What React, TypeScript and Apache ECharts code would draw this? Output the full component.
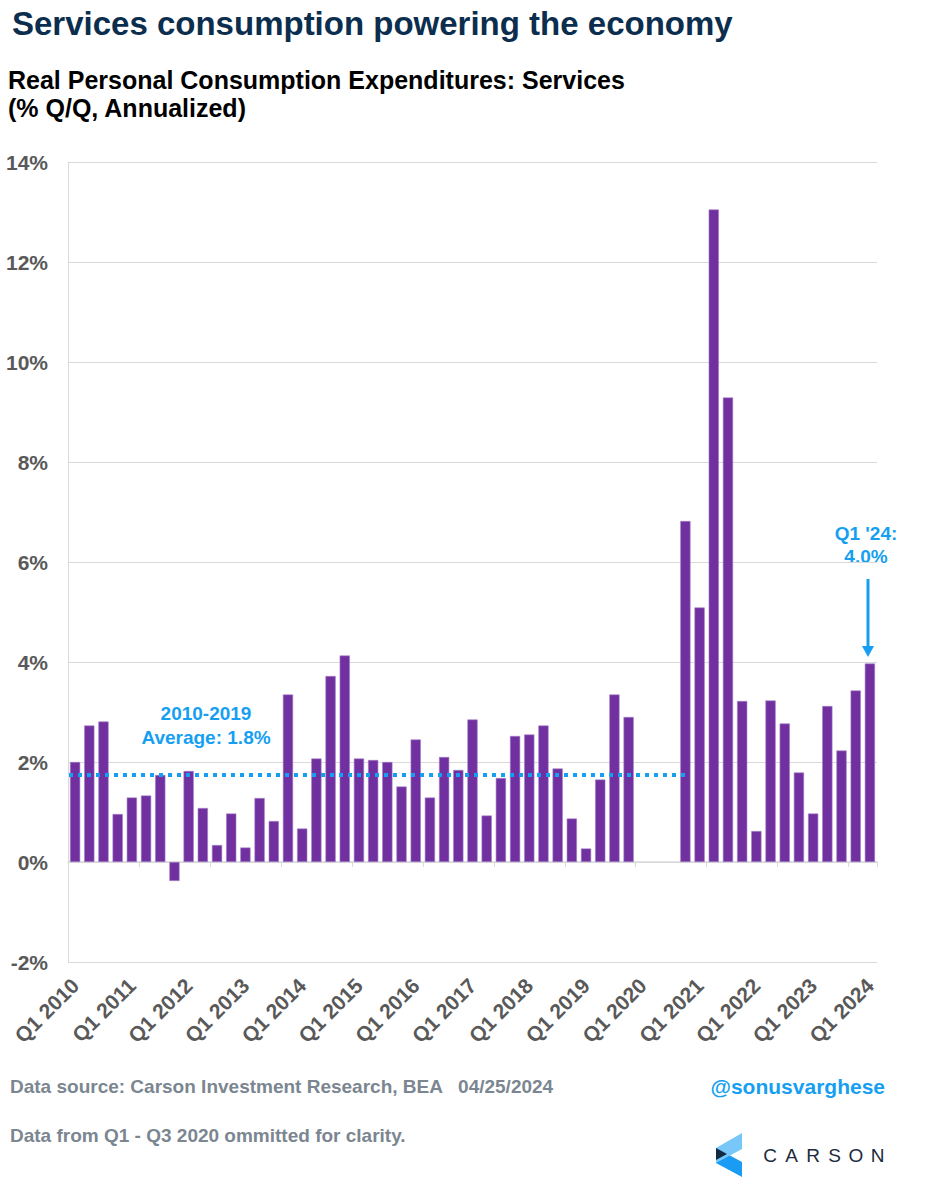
import React, { useEffect, useRef } from "react";
import * as echarts from "echarts";

const years = [2010, 2011, 2012, 2013, 2014, 2015, 2016, 2017, 2018, 2019, 2020, 2021, 2022, 2023, 2024];
const quarters = ["Q1", "Q2", "Q3", "Q4"];
const categories: string[] = [];
years.forEach((y) => quarters.forEach((q) => {
  if (y < 2024 || q === "Q1") categories.push(`${q} ${y}`);
}));

// Real PCE: Services, % Q/Q annualized (Q1-Q3 2020 omitted)
const values: (number | null)[] = [
  2.0, 2.73, 2.81, 0.96,
  1.29, 1.33, 1.74, -0.38,
  1.82, 1.08, 0.34, 0.97,
  0.29, 1.28, 0.82, 3.35,
  0.67, 2.07, 3.72, 4.13,
  2.07, 2.04, 2.0, 1.51,
  2.45, 1.29, 2.1, 1.84,
  2.85, 0.93, 1.68, 2.52,
  2.55, 2.73, 1.87, 0.87,
  0.27, 1.65, 3.35, 2.9,
  null, null, null, 6.82,
  5.09, 13.05, 9.29, 3.22,
  0.62, 3.23, 2.77, 1.79,
  0.97, 3.12, 2.23, 3.43,
  3.97,
];

const avg2010_2019 = 1.75;
const avgEndIndex = 43;
const yTicks = { min: -2, max: 14, interval: 2 };

const BLUE = "#169ff2";
const GRAY = "#595959";
const FOOT = "#7b8691";
const FONT = "'Liberation Sans', Arial, sans-serif";

export default function App() {
  const ref = useRef<HTMLDivElement>(null);
  useEffect(() => {
    if (!ref.current) return;
    const chart = echarts.init(ref.current, null, { renderer: "svg" });
    const carson = ["C", "A", "R", "S", "O", "N"];
    chart.setOption({
      animation: false,
      backgroundColor: "#ffffff",
      textStyle: { fontFamily: FONT },
      grid: { left: 68, right: 50, top: 162, bottom: 238, containLabel: false },
      xAxis: [
        {
          type: "category",
          data: categories,
          position: "bottom",
          axisLine: { show: false, onZero: false },
          axisTick: { show: false },
          axisLabel: {
            interval: 3,
            rotate: 45,
            margin: 20,
            color: GRAY,
            fontWeight: "bold",
            fontSize: 21,
            fontFamily: FONT,
          },
          splitLine: { show: false },
        },
        {
          type: "category",
          data: categories,
          position: "bottom",
          axisLine: { show: true, onZero: true, lineStyle: { color: "#d9d9d9", width: 1.5 } },
          axisTick: { show: true, length: 5, lineStyle: { color: "#d9d9d9" } },
          axisLabel: { show: false },
          splitLine: { show: false },
        },
      ],
      yAxis: {
        type: "value",
        min: yTicks.min,
        max: yTicks.max,
        interval: yTicks.interval,
        axisLine: { show: true, lineStyle: { color: "#d9d9d9" } },
        axisTick: { show: false },
        axisLabel: {
          formatter: "{value}%",
          color: GRAY,
          fontWeight: "bold",
          fontSize: 21,
          fontFamily: FONT,
          margin: 20,
        },
        splitLine: { lineStyle: { color: "#d9d9d9", width: 1 } },
      },
      series: [
        {
          type: "bar",
          xAxisIndex: 0,
          data: values,
          barCategoryGap: "28%",
          itemStyle: { color: "#7030a0", borderColor: "#a47fc6", borderWidth: 0.6 },
          markLine: {
            silent: true,
            symbol: ["none", "none"],
            label: { show: false },
            lineStyle: { color: BLUE, width: 4, type: [4, 5] },
            data: [[{ coord: [0, avg2010_2019], x: 69 }, { coord: [avgEndIndex, avg2010_2019] }]],
          },
        },
      ],
      graphic: [
        {
          type: "text",
          left: 12,
          top: 7,
          style: {
            text: "Services consumption powering the economy",
            fill: "#0c2e4e",
            font: `bold 33px ${FONT}`,
          },
        },
        {
          type: "text",
          left: 8,
          top: 66,
          style: {
            text: "Real Personal Consumption Expenditures: Services\n(% Q/Q, Annualized)",
            fill: "#000000",
            font: `bold 25px ${FONT}`,
            lineHeight: 28,
          },
        },
        {
          type: "text",
          x: 206,
          y: 725,
          style: {
            text: "2010-2019\nAverage: 1.8%",
            fill: BLUE,
            font: `bold 19px ${FONT}`,
            lineHeight: 24,
            align: "center",
            verticalAlign: "middle",
          },
        },
        {
          type: "text",
          x: 866,
          y: 545,
          style: {
            text: "Q1 '24:\n4.0%",
            fill: BLUE,
            font: `bold 19px ${FONT}`,
            lineHeight: 23,
            align: "center",
            verticalAlign: "middle",
          },
        },
        {
          type: "line",
          shape: { x1: 868, y1: 579, x2: 868, y2: 648 },
          style: { stroke: BLUE, lineWidth: 3 },
        },
        {
          type: "polygon",
          shape: { points: [[862, 646], [874, 646], [868, 657]] },
          style: { fill: BLUE },
        },
        {
          type: "text",
          left: 10,
          top: 1077,
          style: {
            text: "Data source: Carson Investment Research, BEA   04/25/2024",
            fill: FOOT,
            font: `bold 19px ${FONT}`,
          },
        },
        {
          type: "text",
          left: 10,
          top: 1126,
          style: {
            text: "Data from Q1 - Q3 2020 ommitted for clarity.",
            fill: FOOT,
            font: `bold 19px ${FONT}`,
          },
        },
        {
          type: "text",
          right: 42,
          top: 1076,
          style: {
            text: "@sonusvarghese",
            fill: BLUE,
            font: `bold 21px ${FONT}`,
          },
        },
        {
          type: "polygon",
          shape: { points: [[716, 1148], [742, 1162], [742, 1177], [716, 1163]] },
          style: { fill: "#1a9cf5" },
        },
        {
          type: "polygon",
          shape: { points: [[716, 1148], [742, 1133], [742, 1149], [729, 1156], [716, 1163]] },
          style: { fill: "#78c7f9" },
        },
        {
          type: "polygon",
          shape: { points: [[716, 1148], [716, 1160], [727, 1154]] },
          style: { fill: "#142a44" },
        },
        ...carson.map((ch, i) => ({
          type: "text",
          x: 770 + i * 21.5,
          y: 1155,
          style: {
            text: ch,
            fill: "#1c2b3d",
            font: `19px ${FONT}`,
            align: "center",
            verticalAlign: "middle",
          },
        })),
      ],
    });
    return () => chart.dispose();
  }, []);
  return (
    <div
      ref={ref}
      style={{ position: "fixed", left: 0, top: 0, width: 927, height: 1200, background: "#fff" }}
    />
  );
}
